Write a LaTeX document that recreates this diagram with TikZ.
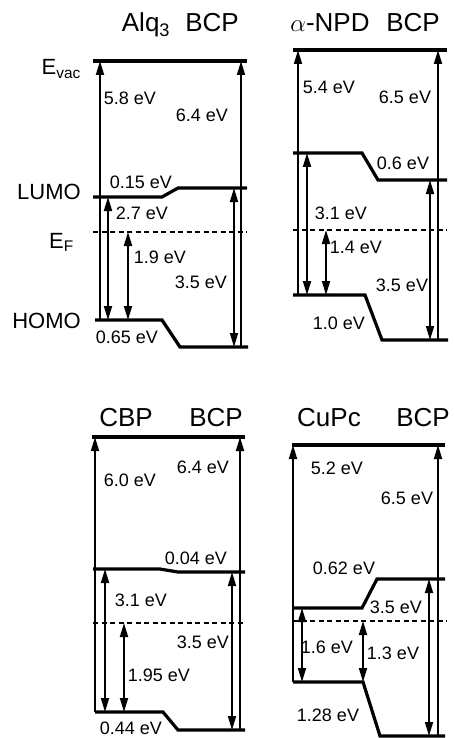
\documentclass[tikz,border=0pt]{standalone}
\usepackage{fontspec}
\setmainfont{Liberation Sans}
\usetikzlibrary{arrows.meta}

\begin{document}
\begin{tikzpicture}[
  x=1pt, y=-1pt,
  level/.style={line width=3.2pt},
  fermi/.style={line width=1.1pt, dash pattern=on 5pt off 3.5pt},
  gap/.style={line width=1.8pt, {Triangle[length=14pt,width=8pt]}-{Triangle[length=14pt,width=8pt]}},
  rise/.style={line width=1.8pt, -{Triangle[length=14pt,width=8pt]}},
  mat/.style={font=\fontsize{26}{26}\selectfont, anchor=base, inner sep=0pt},
  lvl/.style={font=\fontsize{22}{22}\selectfont, anchor=base east, inner sep=0pt},
  ev/.style={font=\fontsize{18}{18}\selectfont, inner sep=0pt}
]
\useasboundingbox (0,0) rectangle (454,738);

% Alq3 / BCP
\node[mat] (aMat) at (146,32) {Alq\textsubscript{3}};
\node[mat] (aBcp) at (212,32) {BCP};
\node[lvl] (evac) at (81,75) {E\textsubscript{vac}};
\node[lvl] (lumo) at (81,200) {LUMO};
\node[lvl] (ef) at (74,248) {E\textsubscript{F}};
\node[lvl] (homo) at (81,328) {HOMO};
\coordinate (aVac) at (0,61);
\coordinate (aL1) at (0,197);
\coordinate (aL2) at (0,188);
\coordinate (aF) at (0,232);
\coordinate (aH1) at (0,320);
\coordinate (aH2) at (0,347);
\coordinate (a1) at (100,0);
\coordinate (a2) at (108,0);
\coordinate (a3) at (128,0);
\coordinate (a4) at (234,0);
\coordinate (a5) at (241,0);
\draw[level] (93,61) -- (247,61);
\draw[level] (93,197) -- (162,197) -- (178,188) -- (247,188);
\draw[fermi] (93,232) -- (247,232);
\draw[level] (95,320) -- (162,320) -- (180,347) -- (248,347);
\draw[rise] (a1 |- aH1) -- (a1 |- aVac);
\draw[gap] (a2 |- aL1) -- (a2 |- aH1);
\draw[gap] (a3 |- aF) -- (a3 |- aH1);
\draw[gap] (a4 |- aL2) -- (a4 |- aH2);
\draw[rise] (a5 |- aH2) -- (a5 |- aVac);
\node[ev] at (130,98) {5.8 eV};
\node[ev] at (202,115) {6.4 eV};
\node[ev] at (141,182) {0.15 eV};
\node[ev] at (142,213) {2.7 eV};
\node[ev] at (160,257) {1.9 eV};
\node[ev] at (201,282) {3.5 eV};
\node[ev] at (127,337) {0.65 eV};

% a-NPD / BCP
\node[mat] (bMat) at (330,32) {$\alpha$-NPD};
\node[mat] (bBcp) at (413,32) {BCP};
\coordinate (bVac) at (0,50);
\coordinate (bL1) at (0,153);
\coordinate (bL2) at (0,180);
\coordinate (bF) at (0,230);
\coordinate (bH1) at (0,295);
\coordinate (bH2) at (0,340);
\coordinate (b1) at (298,0);
\coordinate (b2) at (307,0);
\coordinate (b3) at (326,0);
\coordinate (b4) at (430,0);
\coordinate (b5) at (438,0);
\draw[level] (293,50) -- (447,50);
\draw[level] (293,153) -- (362,153) -- (378,180) -- (447,180);
\draw[fermi] (293,230) -- (447,230);
\draw[level] (293,295) -- (365,295) -- (382,340) -- (448,340);
\draw[rise] (b1 |- bH1) -- (b1 |- bVac);
\draw[gap] (b2 |- bL1) -- (b2 |- bH1);
\draw[gap] (b3 |- bF) -- (b3 |- bH1);
\draw[gap] (b4 |- bL2) -- (b4 |- bH2);
\draw[rise] (b5 |- bH2) -- (b5 |- bVac);
\node[ev] at (329,87) {5.4 eV};
\node[ev] at (405,97) {6.5 eV};
\node[ev] at (403,163) {0.6 eV};
\node[ev] at (341,213) {3.1 eV};
\node[ev] at (356,247) {1.4 eV};
\node[ev] at (402,285) {3.5 eV};
\node[ev] at (339,323) {1.0 eV};

% CBP / BCP
\node[mat] (cMat) at (126,426) {CBP};
\node[mat] (cBcp) at (216,426) {BCP};
\coordinate (cVac) at (0,437);
\coordinate (cL1) at (0,569);
\coordinate (cL2) at (0,572);
\coordinate (cF) at (0,623);
\coordinate (cH1) at (0,712);
\coordinate (cH2) at (0,730);
\coordinate (c1) at (95,0);
\coordinate (c2) at (105,0);
\coordinate (c3) at (124,0);
\coordinate (c4) at (232,0);
\coordinate (c5) at (240,0);
\draw[level] (92,437) -- (245,437);
\draw[level] (93,569) -- (160,569) -- (178,572) -- (245,572);
\draw[fermi] (93,623) -- (245,623);
\draw[level] (95,712) -- (163,712) -- (178,730) -- (245,730);
\draw[rise] (c1 |- cH1) -- (c1 |- cVac);
\draw[gap] (c2 |- cL1) -- (c2 |- cH1);
\draw[gap] (c3 |- cF) -- (c3 |- cH1);
\draw[gap] (c4 |- cL2) -- (c4 |- cH2);
\draw[rise] (c5 |- cH2) -- (c5 |- cVac);
\node[ev] at (130,480) {6.0 eV};
\node[ev] at (203,467) {6.4 eV};
\node[ev] at (196,558) {0.04 eV};
\node[ev] at (141,600) {3.1 eV};
\node[ev] at (203,642) {3.5 eV};
\node[ev] at (159,675) {1.95 eV};
\node[ev] at (131,728) {0.44 eV};

% CuPc / BCP
\node[mat] (dMat) at (329,426) {CuPc};
\node[mat] (dBcp) at (423,426) {BCP};
\coordinate (dVac) at (0,445);
\coordinate (dL1) at (0,608);
\coordinate (dL2) at (0,579);
\coordinate (dF) at (0,621);
\coordinate (dH1) at (0,682);
\coordinate (dH2) at (0,736);
\coordinate (d1) at (293,0);
\coordinate (d2) at (302,0);
\coordinate (d3) at (363,0);
\coordinate (d4) at (429,0);
\coordinate (d5) at (438,0);
\draw[level] (292,445) -- (445,445);
\draw[level] (293,608) -- (362,608) -- (377,579) -- (445,579);
\draw[fermi] (293,621) -- (447,621);
\draw[level] (293,682) -- (363,682) -- (380,736) -- (445,736);
\draw[rise] (d1 |- dH1) -- (d1 |- dVac);
\draw[gap] (d2 |- dL1) -- (d2 |- dH1);
\draw[gap] (d3 |- dF) -- (d3 |- dH1);
\draw[gap] (d4 |- dL2) -- (d4 |- dH2);
\draw[rise] (d5 |- dH2) -- (d5 |- dVac);
\node[ev] at (337,468) {5.2 eV};
\node[ev] at (407,498) {6.5 eV};
\node[ev] at (344,568) {0.62 eV};
\node[ev] at (396,607) {3.5 eV};
\node[ev] at (327,647) {1.6 eV};
\node[ev] at (393,653) {1.3 eV};
\node[ev] at (328,715) {1.28 eV};
\end{tikzpicture}
\end{document}
